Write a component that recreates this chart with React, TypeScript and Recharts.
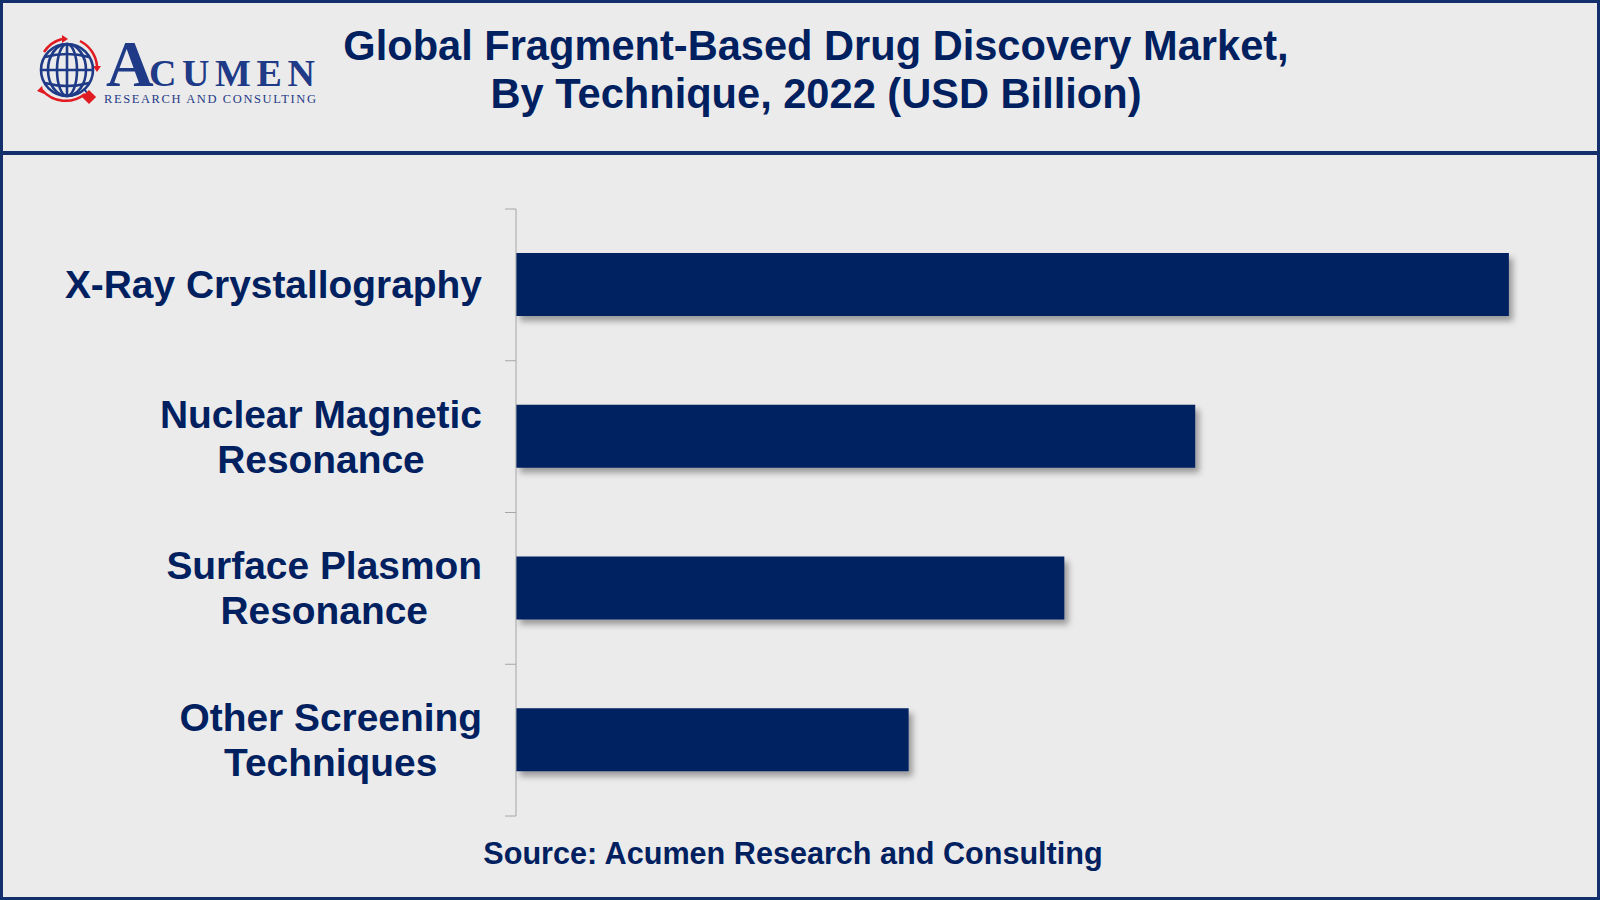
import React from "react";
import { BarChart, Bar, XAxis, YAxis, usePlotArea } from "recharts";

const categories = [
  "X-Ray Crystallography",
  "Nuclear Magnetic\nResonance",
  "Surface Plasmon\nResonance",
  "Other Screening\nTechniques",
];
const marketSize = [0.44, 0.301, 0.243, 0.174];
const xDomain = [0, 0.46];

const titleLines = [
  "Global Fragment-Based Drug Discovery Market,",
  "By Technique, 2022 (USD Billion)",
];
const sourceText = "Source: Acumen Research and Consulting";

const NAVY = "#002060";
const FRAME = "#13306c";
const BG = "#ebebeb";
const SANS = "'Liberation Sans', Arial, Helvetica, sans-serif";
const SERIF = "'Liberation Serif', 'Times New Roman', serif";

const data = categories.map((name, i) => ({ name, value: marketSize[i] }));

const CategoryTick = ({ x, y, payload }: any) => {
  const lines = String(payload.value).split("\n");
  const right = x - 26;
  return (
    <foreignObject x={0} y={y - 60} width={right} height={120}>
      <div
        style={{
          width: "100%",
          height: "100%",
          display: "flex",
          alignItems: "center",
          justifyContent: "flex-end",
        }}
      >
        <div
          style={{
            textAlign: "center",
            fontFamily: SANS,
            fontWeight: 700,
            fontSize: 38.9,
            lineHeight: "45px",
            color: NAVY,
            whiteSpace: "nowrap",
          }}
        >
          {lines.map((l, i) => (
            <div key={i}>{l}</div>
          ))}
        </div>
      </div>
    </foreignObject>
  );
};

// small tick marks between the category bands
const BandTicks = () => {
  const area = usePlotArea();
  if (!area) return null;
  const n = categories.length;
  return (
    <g>
      {Array.from({ length: n + 1 }, (_, i) => {
        const y = area.y + (area.height * i) / n;
        return <line key={i} x1={area.x - 11} x2={area.x} y1={y} y2={y} stroke="#a6a6a6" strokeWidth={1} />;
      })}
    </g>
  );
};

const ShadowBar = (props: any) => {
  const { x, y, width, height, fill } = props;
  return <rect x={x} y={y} width={width} height={height} fill={fill} filter="url(#barShadow)" />;
};

const Logo = () => (
  <svg width={330} height={130} style={{ position: "absolute", left: 0, top: 0 }}>
    {/* red arrows around the globe */}
    <g fill="none" stroke="#e01b22" strokeWidth={2.5}>
      <path d="M 44 52 A 31 31 0 0 1 62 39" />
      <path d="M 80 41 A 31 31 0 0 1 97 66" />
      <path d="M 85 94 A 31 31 0 0 1 42 90" />
    </g>
    <g fill="#e01b22">
      <path d="M 62 35 L 68 39 L 62 43 Z" />
      <path d="M 93 66 L 97 72 L 101 66 Z" />
      <path d="M 42 86 L 37 91 L 44 94 Z" />
    </g>
    {/* globe */}
    <g fill="none" stroke="#1f3a87" strokeWidth={2.6}>
      <circle cx={67} cy={70} r={26} />
      <ellipse cx={67} cy={70} rx={10} ry={26} />
      <ellipse cx={67} cy={70} rx={19} ry={26} />
      <line x1={67} y1={44} x2={67} y2={96} />
      <path d="M 45 57 Q 67 51 89 57" />
      <path d="M 41 70 L 93 70" />
      <path d="M 45 83 Q 67 89 89 83" />
    </g>
    <line x1={84} y1={89} x2={88} y2={94} stroke="#1f3a87" strokeWidth={2} />
    <rect x={84} y={92} width={10} height={10} fill="#e01b22" transform="rotate(45 89 97)" />
    {/* word mark */}
    <text x={106} y={86} fill="#1f3a87" fontFamily={SERIF} fontWeight={700}>
      <tspan fontSize={66}>A</tspan>
      <tspan fontSize={38} x={149} textLength={166} lengthAdjust="spacing">
        CUMEN
      </tspan>
    </text>
    <text x={104} y={103} fill="#1f3a87" fontFamily={SERIF} fontSize={12.5} textLength={212} lengthAdjust="spacing">
      RESEARCH AND CONSULTING
    </text>
  </svg>
);

export default function App() {
  return (
    <div
      style={{
        position: "absolute",
        left: 0,
        top: 0,
        width: 1600,
        height: 900,
        background: BG,
        boxSizing: "border-box",
        border: `3px solid ${FRAME}`,
        overflow: "hidden",
      }}
    >
      <svg width={0} height={0} style={{ position: "absolute" }}>
        <defs>
          <filter id="barShadow" x="-5%" y="-20%" width="115%" height="150%">
            <feDropShadow dx={4} dy={5} stdDeviation={3} floodColor="#000" floodOpacity={0.35} />
          </filter>
        </defs>
      </svg>

      <div style={{ position: "absolute", left: -3, top: -3 }}>
        <div style={{ position: "relative", width: 1600, height: 900 }}>
          <Logo />

          <div
            style={{
              position: "absolute",
              left: 316,
              width: 1000,
              top: 22,
              textAlign: "center",
              fontFamily: SANS,
              fontWeight: 700,
              fontSize: 41.6,
              lineHeight: "48px",
              color: NAVY,
              whiteSpace: "nowrap",
            }}
          >
            {titleLines.map((l, i) => (
              <div key={i}>{l}</div>
            ))}
          </div>

          <div
            style={{
              position: "absolute",
              left: 0,
              top: 151,
              width: 1600,
              height: 4,
              background: FRAME,
            }}
          />

          <div style={{ position: "absolute", left: 0, top: 0 }}>
            <BarChart
              width={1600}
              height={900}
              data={data}
              layout="vertical"
              margin={{ top: 209, right: 46, bottom: 84, left: 0 }}
            >
              <XAxis type="number" domain={xDomain} hide />
              <YAxis
                type="category"
                dataKey="name"
                width={516}
                axisLine={{ stroke: "#a6a6a6", strokeWidth: 1 }}
                tickLine={false}
                tick={<CategoryTick />}
                interval={0}
              />
              <BandTicks />
              <Bar dataKey="value" fill={NAVY} barSize={63} shape={<ShadowBar />} isAnimationActive={false} />
            </BarChart>
          </div>

          <div
            style={{
              position: "absolute",
              left: 293,
              width: 1000,
              top: 835,
              textAlign: "center",
              fontFamily: SANS,
              fontWeight: 700,
              fontSize: 30.6,
              lineHeight: "36px",
              color: NAVY,
              whiteSpace: "nowrap",
            }}
          >
            {sourceText}
          </div>
        </div>
      </div>
    </div>
  );
}
